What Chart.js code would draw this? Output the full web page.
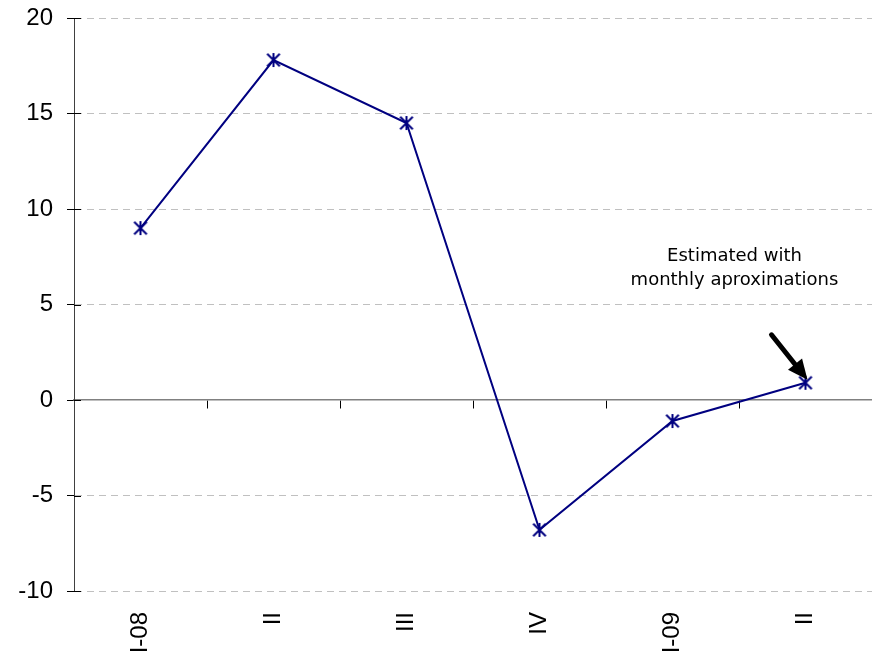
<!DOCTYPE html>
<html lang="en">
<head>
<meta charset="UTF-8">
<title>Quarterly growth</title>
<script src="https://cdn.jsdelivr.net/npm/chart.js"></script>
<style>
  html, body { margin: 0; padding: 0; background: #fff; }
</style>
</head>
<body>
<canvas id="growthChart" width="872" height="657"></canvas>
<script>
// quarterly values
const quarters = ["I-08", "II", "III", "IV", "I-09", "II"];
const growth = [9.0, 17.8, 14.5, -6.8, -1.1, 0.9];
const yMin = -10;
const yMax = 20;
const yStep = 5;
const noteLines = ["Estimated with", "monthly aproximations"];

const NAVY = "#000080";
const tickFont = { family: "Liberation Sans, Arial, sans-serif", size: 24 };

// star marker: an X with a vertical stroke through it
function starMarker(size) {
    const c = document.createElement("canvas");
    c.width = size;
    c.height = size;
    const g = c.getContext("2d");
    const m = size / 2;
    const r = m - 1;
    const d = r * 0.9;
    g.strokeStyle = NAVY;
    g.lineWidth = 2;
    g.beginPath();
    g.moveTo(m - d, m - d); g.lineTo(m + d, m + d);
    g.moveTo(m + d, m - d); g.lineTo(m - d, m + d);
    g.moveTo(m, m - r); g.lineTo(m, m + r);
    g.stroke();
    return c;
}

function noSidePadding(scale) {
    scale.paddingLeft = 0;
    scale.paddingRight = 0;
    scale.paddingTop = 0;
    scale.paddingBottom = 0;
}

// short tick stubs inside the plot + the note with its arrow
const extras = {
    id: "extras",
    afterDraw(chart) {
        const { ctx, chartArea, scales } = chart;
        const y = scales.y;
        ctx.save();
        ctx.strokeStyle = "#000";
        ctx.lineWidth = 1;
        y.ticks.forEach(t => {
            const py = Math.round(y.getPixelForValue(t.value)) + 0.5;
            ctx.beginPath();
            ctx.moveTo(chartArea.left, py);
            ctx.lineTo(chartArea.left + 7, py);
            ctx.stroke();
        });

        const meta = chart.getDatasetMeta(0);
        const last = meta.data[meta.data.length - 1];

        // note text
        ctx.fillStyle = "#000";
        ctx.font = "18px 'DejaVu Sans', sans-serif";
        ctx.textAlign = "center";
        ctx.textBaseline = "alphabetic";
        ctx.fillText(noteLines[0], last.x - 71, last.y - 122);
        ctx.fillText(noteLines[1], last.x - 71, last.y - 98);

        // arrow pointing at the last point
        const sx = last.x - 34, sy = last.y - 48;
        const tx = last.x + 2, ty = last.y - 3;
        const ang = Math.atan2(ty - sy, tx - sx);
        const head = 20, half = 9;
        const bx = tx - head * Math.cos(ang), by = ty - head * Math.sin(ang);
        ctx.strokeStyle = "#000";
        ctx.lineWidth = 5;
        ctx.lineCap = "round";
        ctx.beginPath();
        ctx.moveTo(sx, sy);
        ctx.lineTo(bx, by);
        ctx.stroke();
        ctx.beginPath();
        ctx.moveTo(tx, ty);
        ctx.lineTo(bx + half * Math.sin(ang), by - half * Math.cos(ang));
        ctx.lineTo(bx - half * Math.sin(ang), by + half * Math.cos(ang));
        ctx.closePath();
        ctx.fill();
        ctx.restore();
    }
};

new Chart(document.getElementById("growthChart"), {
    type: "line",
    data: {
        labels: quarters,
        datasets: [{
            data: growth,
            xAxisID: "x",
            yAxisID: "y",
            borderColor: NAVY,
            borderWidth: 2,
            tension: 0,
            fill: false,
            pointStyle: starMarker(16),
            pointRadius: 7
        }]
    },
    options: {
        responsive: false,
        animation: false,
        layout: { autoPadding: false, padding: { left: 18, top: 18, right: -1, bottom: 3 } },
        plugins: {
            legend: { display: false },
            tooltip: { enabled: false }
        },
        scales: {
            x: {
                type: "category",
                labels: quarters,
                offset: true,
                grid: { display: false, drawTicks: false },
                border: { display: false },
                ticks: {
                    autoSkip: false,
                    minRotation: 90,
                    maxRotation: 90,
                    padding: 21,
                    color: "#000",
                    font: tickFont
                },
                afterFit(scale) {
                    scale.height = 63;
                    noSidePadding(scale);
                }
            },
            // axis line through zero with its category ticks
            x0: {
                type: "category",
                labels: quarters,
                position: { y: 0 },
                offset: true,
                grid: { drawOnChartArea: false, offset: true, tickLength: 8, tickColor: "#000" },
                border: { color: "#808080", width: 1.5 },
                ticks: { display: false },
                afterFit: noSidePadding
            },
            y: {
                min: yMin,
                max: yMax,
                ticks: {
                    stepSize: yStep,
                    padding: 14,
                    color: "#000",
                    font: tickFont
                },
                grid: {
                    color: c => (c.tick && c.tick.value === 0) ? "rgba(0,0,0,0)" : "#c0c0c0",
                    tickLength: 7,
                    tickColor: "#000"
                },
                border: { color: "#404040", dash: [7, 5] },
                afterFit(scale) {
                    scale.width = 56;
                    noSidePadding(scale);
                }
            }
        }
    },
    plugins: [extras]
});
</script>
</body>
</html>
